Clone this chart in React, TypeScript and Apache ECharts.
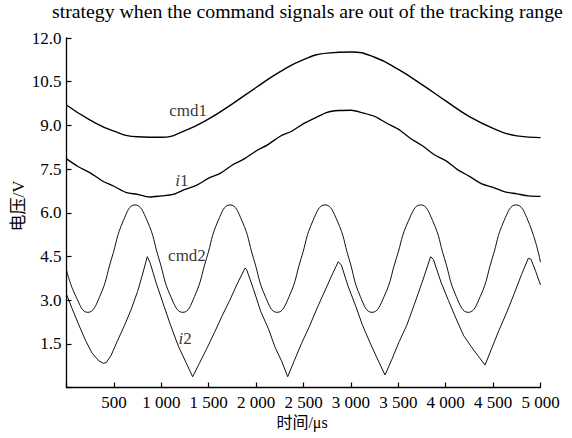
import React, { useEffect, useRef } from "react";
import * as echarts from "echarts";

const titleText = "strategy when the command signals are out of the tracking range";
const xAxisName = "时间/μs";
const yAxisName = "电压/V";

const cmd1T = [0, 250, 500, 750, 1000, 1250, 1500, 1750, 2000, 2250, 2500, 2750, 3000, 3250, 3500, 3750, 4000, 4250, 4500, 4750, 5000];
const cmd1V = [9.70, 9.18, 8.80, 8.61, 8.59, 8.82, 9.22, 9.74, 10.30, 10.84, 11.26, 11.48, 11.52, 11.34, 10.92, 10.40, 9.84, 9.30, 8.90, 8.64, 8.58];

const i1T = [0, 125, 250, 375, 500, 625, 750, 875, 1000, 1125, 1250, 1375, 1500, 1625, 1750, 1875, 2000, 2125, 2250, 2375, 2500, 2625, 2750, 2875, 3000, 3125, 3250, 3375, 3500, 3625, 3750, 3875, 4000, 4125, 4250, 4375, 4500, 4625, 4750, 4875, 5000];
const i1V = [7.85, 7.58, 7.37, 7.10, 6.91, 6.70, 6.63, 6.54, 6.58, 6.63, 6.80, 6.95, 7.19, 7.36, 7.64, 7.85, 8.12, 8.34, 8.62, 8.80, 9.06, 9.26, 9.45, 9.51, 9.52, 9.43, 9.31, 9.08, 8.87, 8.56, 8.31, 8.00, 7.79, 7.48, 7.25, 7.00, 6.87, 6.72, 6.65, 6.58, 6.56];

const cmd2T = [0, 100, 225, 350, 475, 600, 722, 850, 975, 1100, 1228, 1350, 1476, 1600, 1725, 1850, 1974, 2098, 2222, 2348, 2474, 2600, 2727, 2855, 2980, 3100, 3222, 3350, 3478, 3608, 3736, 3862, 3988, 4112, 4238, 4364, 4490, 4616, 4742, 4868, 5000];
const cmd2V = [4.04, 3.12, 2.58, 3.12, 4.42, 5.73, 6.27, 5.73, 4.42, 3.12, 2.58, 3.12, 4.42, 5.73, 6.27, 5.73, 4.42, 3.12, 2.58, 3.12, 4.42, 5.73, 6.27, 5.73, 4.42, 3.12, 2.58, 3.12, 4.42, 5.73, 6.27, 5.73, 4.42, 3.12, 2.58, 3.12, 4.42, 5.73, 6.27, 5.73, 4.30];

const i2T = [0, 60, 130, 200, 270, 340, 388, 420, 470, 540, 610, 680, 750, 800, 852, 880, 950, 1030, 1100, 1180, 1260, 1331, 1400, 1480, 1560, 1640, 1720, 1800, 1883, 1900, 1970, 2050, 2130, 2200, 2270, 2333, 2400, 2480, 2560, 2640, 2720, 2800, 2867, 2900, 2970, 3050, 3120, 3200, 3280, 3360, 3430, 3510, 3590, 3670, 3750, 3841, 3870, 3950, 4030, 4110, 4190, 4270, 4350, 4415, 4480, 4560, 4640, 4720, 4800, 4872, 4900, 4950, 5000];
const i2V = [3.20, 2.70, 2.15, 1.62, 1.18, 0.92, 0.83, 0.86, 1.10, 1.62, 2.12, 2.66, 3.30, 3.86, 4.49, 4.30, 3.55, 2.78, 2.12, 1.42, 0.86, 0.37, 0.82, 1.34, 1.88, 2.45, 2.98, 3.55, 4.10, 4.05, 3.40, 2.60, 2.02, 1.38, 0.90, 0.37, 0.90, 1.52, 2.08, 2.70, 3.28, 3.86, 4.32, 4.20, 3.48, 2.80, 2.16, 1.55, 0.98, 0.43, 0.95, 1.58, 2.14, 2.86, 3.60, 4.49, 4.40, 3.62, 2.98, 2.36, 1.78, 1.40, 1.05, 0.77, 1.30, 1.95, 2.55, 3.20, 3.88, 4.44, 4.40, 3.98, 3.52];

const labelNames = ["cmd1", "i1", "cmd2", "i2"];
const labelT = [1282, 1218, 1271, 1250];
const labelV = [9.51, 7.10, 4.52, 1.67];

const SERIF = "Liberation Serif";
const CJK = "Liberation Serif, Noto Sans CJK SC";

const pairs = (t: number[], v: number[]) => t.map((x, i) => [x, v[i]]);

export default function App() {
  const ref = useRef<HTMLDivElement>(null);
  useEffect(() => {
    if (!ref.current) return;
    const chart = echarts.init(ref.current, null, { renderer: "svg" });
    const fmtX = (v: number) => {
      if (v === 0) return "";
      if (v >= 1000) return `${Math.floor(v / 1000)} ${String(v % 1000).padStart(3, "0")}`;
      return String(v);
    };
    const labelData = labelNames.map((n, i) => ({
      value: [labelT[i], labelV[i]],
      label: {
        formatter: n.startsWith("i") ? `{it|i}{rg|${n.slice(1)}}` : `{rg|${n}}`,
      },
    }));
    chart.setOption({
      animation: false,
      backgroundColor: "#fff",
      textStyle: { fontFamily: SERIF, color: "#000" },
      grid: { left: 66.5, right: 31.5, top: 38, bottom: 50.5, outerBoundsMode: "none", containLabel: false },
      xAxis: {
        type: "value",
        min: 0,
        max: 5000,
        interval: 500,
        axisLine: { show: true, lineStyle: { color: "#000", width: 1.3 } },
        axisTick: { show: true, inside: true, length: 5, lineStyle: { color: "#000", width: 1.2 } },
        axisLabel: { formatter: fmtX, color: "#000", fontSize: 17, fontFamily: SERIF, margin: 6, showMinLabel: true, showMaxLabel: true },
        splitLine: { show: false },
      },
      yAxis: {
        type: "value",
        min: 0,
        max: 12,
        interval: 1.5,
        axisLine: { show: true, lineStyle: { color: "#000", width: 1.3 } },
        axisTick: { show: true, inside: true, length: 5, lineStyle: { color: "#000", width: 1.2 } },
        axisLabel: { formatter: (v: number) => (v === 0 ? "" : v.toFixed(1)), color: "#000", fontSize: 17, fontFamily: SERIF, margin: 5 },
        splitLine: { show: false },
      },
      graphic: [
        { type: "text", left: 52, top: 1, style: { text: titleText, fill: "#000", fontSize: 19.8, fontFamily: SERIF } },
        { type: "text", x: 302, y: 422, style: { text: xAxisName, fill: "#000", fontSize: 16, fontFamily: CJK, align: "center", verticalAlign: "middle" } },
        { type: "text", x: 18, y: 206, rotation: Math.PI / 2, style: { text: yAxisName, fill: "#000", fontSize: 17, fontFamily: CJK, align: "center", verticalAlign: "middle" } },
      ],
      series: [
        { type: "line", data: pairs(cmd1T, cmd1V), smooth: 0.5, showSymbol: false, lineStyle: { color: "#000", width: 1.4 } },
        { type: "line", data: pairs(i1T, i1V), smooth: 0.3, showSymbol: false, lineStyle: { color: "#000", width: 1.3 } },
        { type: "line", data: pairs(cmd2T, cmd2V), smooth: 0.5, showSymbol: false, lineStyle: { color: "#111", width: 1 } },
        { type: "line", data: pairs(i2T, i2V), smooth: false, showSymbol: false, lineStyle: { color: "#111", width: 1 } },
        {
          type: "scatter",
          data: labelData,
          symbolSize: 0,
          silent: true,
          label: {
            show: true,
            position: "inside",
            color: "#000",
            fontSize: 17,
            fontFamily: SERIF,
            rich: {
              it: { fontStyle: "italic", fontSize: 17, fontFamily: SERIF, color: "#000" },
              rg: { fontSize: 17, fontFamily: SERIF, color: "#000" },
            },
          },
        },
      ],
    });
    return () => chart.dispose();
  }, []);
  return <div ref={ref} style={{ position: "fixed", left: 0, top: 0, width: 572, height: 438, background: "#fff" }} />;
}
